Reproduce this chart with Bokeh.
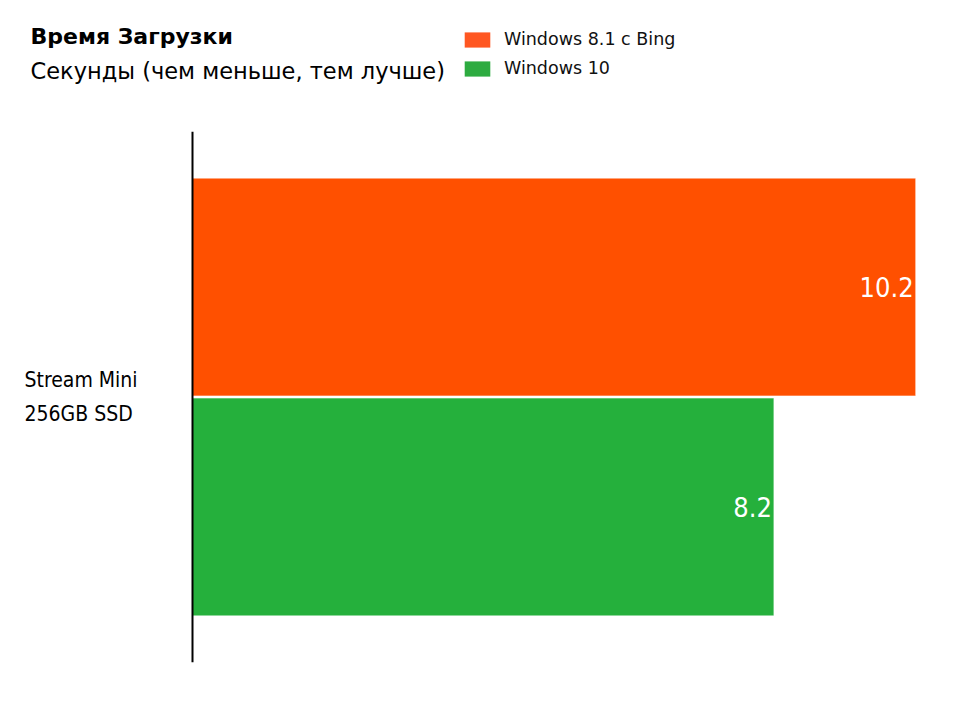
from bokeh.plotting import figure
from bokeh.layouts import column
from bokeh.models import Range1d, Label, Legend, LegendItem, ColumnDataSource, Span
from bokeh.core.properties import value
from bokeh.embed import file_html
from bokeh.resources import INLINE

# ---- data ----
title = "Время Загрузки"
subtitle = "Секунды (чем меньше, тем лучше)"
category = "Stream Mini\n256GB SSD"
series = ["Windows 8.1 c Bing", "Windows 10"]
values = [10.2, 8.2]
bar_colors = ["#ff5000", "#25b03c"]
legend_colors = ["#ff5722", "#2dab40"]

n = len(series)
ypos = [n - 0.5 - i for i in range(n)]  # first series on top
src = ColumnDataSource(dict(y=ypos, v=values, c=bar_colors,
                            lab=[f"{v:.1f}" for v in values]))

W = 964
HEAD = 131
COND = "DejaVu Sans Condensed"

# ---- header (titles + legend) ----
h = figure(width=W, height=HEAD, min_border=0, x_axis_type=None, y_axis_type=None,
           output_backend="svg", toolbar_location=None)
h.outline_line_color = None
h.grid.visible = False
h.add_layout(Label(x=30, x_units="screen", y=HEAD - 36, y_units="screen", text=title,
                   text_font="DejaVu Sans", text_font_size="22px", text_font_style="bold",
                   text_color="black", text_baseline="alphabetic"))
h.add_layout(Label(x=30, x_units="screen", y=HEAD - 70, y_units="screen", text=subtitle,
                   text_font="DejaVu Sans", text_font_size="22.5px",
                   text_color="black", text_baseline="alphabetic"))
items = []
for s, c in zip(series, legend_colors):
    r = h.rect(x=[0], y=[0], width=0, height=0, fill_color=c, line_color=None)
    items.append(LegendItem(label=s, renderers=[r]))
legend = Legend(items=items, location=(461, HEAD - 78), glyph_width=32, glyph_height=19,
                label_height=15, label_standoff=11, spacing=9, padding=0, margin=0,
                border_line_color=None, background_fill_alpha=0,
                label_text_font="DejaVu Sans", label_text_font_size="17.5px",
                label_text_color="#111111")
h.add_layout(legend, "center")

# ---- main chart ----
PX = 70.9          # pixels per second
LEFT = 192         # pixel position of the zero line
p = figure(width=W, frame_height=531, min_border=0, min_border_bottom=42,
           x_axis_type=None, y_axis_type=None,
           x_range=Range1d(-LEFT / PX, (W - LEFT) / PX), y_range=Range1d(-0.207, n + 0.207),
           output_backend="svg", toolbar_location=None)
p.grid.visible = False
p.outline_line_color = None

p.hbar(y="y", right="v", left=0, height=0.99, fill_color="c",
       line_color="white", line_alpha=0.5, line_width=1, source=src)

p.add_layout(Span(location=0, dimension="height", line_color="black", line_width=2))

p.text(x="v", y="y", text="lab", source=src, text_align="right", text_baseline="middle",
       x_offset=-2, text_color="white", text_font=value(COND),
       text_font_size="27px")

p.add_layout(Label(x=24, x_units="screen", y=n / 2, text=category,
                   text_font=COND, text_font_size="21px", text_color="black",
                   text_align="left", text_baseline="middle", text_line_height=1.45))

layout = column(h, p, spacing=0)
open("out.html", "w").write(file_html(layout, INLINE))
